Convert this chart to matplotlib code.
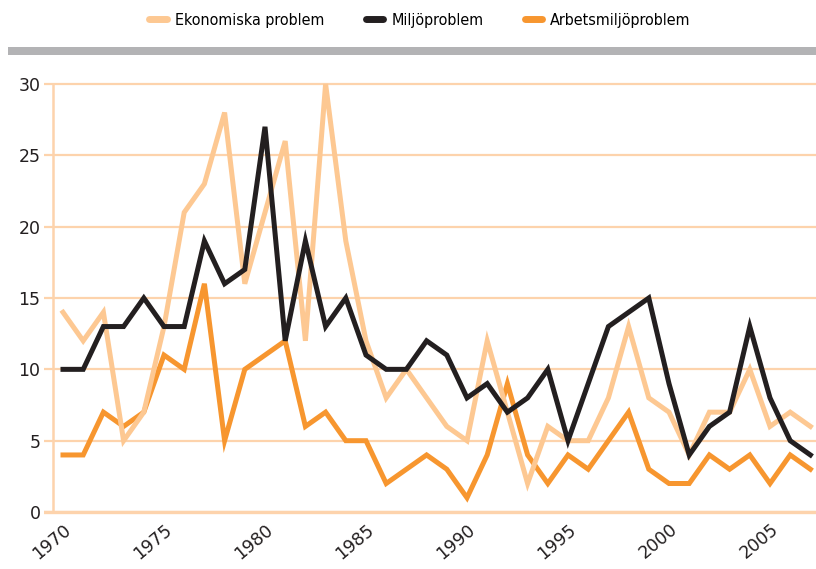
import matplotlib
matplotlib.use('Agg')
import matplotlib.pyplot as plt
from matplotlib.patches import Rectangle
from matplotlib.lines import Line2D

years = list(range(1970, 2008))
ekonomiska = [14, 12, 14, 5, 7, 13, 21, 23, 28, 16, 21, 26, 12, 30, 19, 12, 8, 10, 8, 6,
              5, 12, 7, 2, 6, 5, 5, 8, 13, 8, 7, 4, 7, 7, 10, 6, 7, 6]
miljo = [10, 10, 13, 13, 15, 13, 13, 19, 16, 17, 27, 12, 19, 13, 15, 11, 10, 10, 12, 11,
         8, 9, 7, 8, 10, 5, 9, 13, 14, 15, 9, 4, 6, 7, 13, 8, 5, 4]
arbetsmiljo = [4, 4, 7, 6, 7, 11, 10, 16, 5, 10, 11, 12, 6, 7, 5, 5, 2, 3, 4, 3,
               1, 4, 9, 4, 2, 4, 3, 5, 7, 3, 2, 2, 4, 3, 4, 2, 4, 3]
labels = ['Ekonomiska problem', 'Miljöproblem', 'Arbetsmiljöproblem']
xticks = [1970, 1975, 1980, 1985, 1990, 1995, 2000, 2005]
yticks = [0, 5, 10, 15, 20, 25, 30]

c_light = '#fdc892'
c_black = '#231f20'
c_orange = '#f7962f'
c_grid = '#fdd3ac'

fig = plt.figure(figsize=(8.16, 5.69), dpi=100)
ax = fig.add_axes([44 / 816, 0.0926, 1 - 44 / 816, 0.7673])

ax.plot(years, arbetsmiljo, color=c_orange, lw=3.6, zorder=3, solid_joinstyle='miter')
ax.plot(years, ekonomiska, color=c_light, lw=3.6, zorder=4, solid_joinstyle='miter')
ax.plot(years, miljo, color=c_black, lw=3.6, zorder=5, solid_joinstyle='miter')

ax.set_xlim(1970 - 19 / 20.2, 1970 + 753 / 20.2)
ax.set_ylim(-0.3, 30.3)
ax.set_yticks(yticks)
ax.set_xticks(xticks)
ax.grid(axis='y', color=c_grid, lw=1.6, zorder=1)
ax.axhline(0, color=c_grid, lw=2.4, zorder=1)

for s in ['top', 'right', 'bottom']:
    ax.spines[s].set_visible(False)
ax.spines['left'].set_position(('data', 1970 - 10 / 20.2))
ax.spines['left'].set_bounds(0, 30)
ax.spines['left'].set_color(c_grid)
ax.spines['left'].set_linewidth(1.8)
ax.tick_params(axis='both', length=0, labelsize=12.5, colors='#231f20')
ax.tick_params(axis='y', pad=9)
ax.tick_params(axis='x', pad=3)
for lab in ax.get_xticklabels():
    lab.set_rotation(40)
    lab.set_ha('right')
    lab.set_va('top')
    lab.set_rotation_mode('anchor')
for lab in ax.get_yticklabels():
    lab.set_ha('right')

# grey band under legend
fig.add_artist(Rectangle((8 / 816, 1 - 55 / 569), 1, 8 / 569, transform=fig.transFigure,
                         color='#b3b3b5', lw=0))

handles = [Line2D([], [], color=c, lw=5, solid_capstyle='round')
           for c in [c_light, c_black, c_orange]]
fig.legend(handles, labels, loc='center', bbox_to_anchor=(420 / 816, 1 - 20 / 569),
           ncol=3, frameon=False, handlelength=1.1, handletextpad=0.5, columnspacing=2.6,
           prop={'family': 'DejaVu Sans', 'stretch': 'condensed', 'size': 11.5})

fig.savefig('out.png', dpi=100)
